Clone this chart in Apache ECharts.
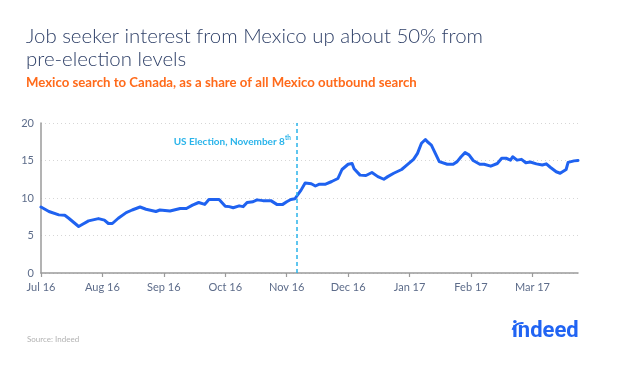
<!DOCTYPE html>
<html>
<head>
<meta charset="utf-8">
<script src="https://cdn.jsdelivr.net/npm/echarts@6/dist/echarts.min.js"></script>
<style>
  html, body { margin: 0; padding: 0; background: #ffffff; }
  #chart { width: 626px; height: 366px; }
</style>
</head>
<body>
<div id="chart"></div>
<script>
// ---- Data ----
var titleLines = ['Job seeker interest from Mexico up about 50% from', 'pre-election levels'];
var subtitleText = 'Mexico search to Canada, as a share of all Mexico outbound search';
var sourceText = 'Source: Indeed';
var monthLabels = ['Jul 16', 'Aug 16', 'Sep 16', 'Oct 16', 'Nov 16', 'Dec 16', 'Jan 17', 'Feb 17', 'Mar 17'];
var yTicks = [0, 5, 10, 15, 20];
var electionLabel = 'US Election, November 8';
var electionMarkerDate = '2016-11-06';

var dates = [
  '2016-07-01','2016-07-05','2016-07-10','2016-07-13','2016-07-15','2016-07-20','2016-07-22','2016-07-25','2016-07-30',
  '2016-08-02','2016-08-04','2016-08-06','2016-08-09','2016-08-13','2016-08-16','2016-08-20','2016-08-23','2016-08-28','2016-08-30',
  '2016-09-04','2016-09-09','2016-09-12','2016-09-15','2016-09-18','2016-09-21','2016-09-23','2016-09-28',
  '2016-10-01','2016-10-03','2016-10-05','2016-10-08','2016-10-10','2016-10-12','2016-10-15','2016-10-17','2016-10-20','2016-10-21','2016-10-24','2016-10-27','2016-10-30',
  '2016-11-01','2016-11-03','2016-11-05','2016-11-08','2016-11-10','2016-11-13','2016-11-15','2016-11-17','2016-11-20','2016-11-23','2016-11-26','2016-11-28',
  '2016-12-01','2016-12-03','2016-12-04','2016-12-07','2016-12-10','2016-12-13','2016-12-16','2016-12-19','2016-12-21','2016-12-24','2016-12-28','2016-12-30',
  '2017-01-03','2017-01-05','2017-01-07','2017-01-09','2017-01-10','2017-01-12','2017-01-14','2017-01-16','2017-01-20','2017-01-23','2017-01-25','2017-01-27','2017-01-29','2017-01-31',
  '2017-02-02','2017-02-05','2017-02-07','2017-02-10','2017-02-13','2017-02-15','2017-02-17','2017-02-19','2017-02-20','2017-02-22','2017-02-24','2017-02-26','2017-02-28',
  '2017-03-03','2017-03-06','2017-03-08','2017-03-10','2017-03-13','2017-03-15','2017-03-18','2017-03-19','2017-03-22','2017-03-24'
];
var values = [
  8.8, 8.2, 7.75, 7.7, 7.3, 6.2, 6.5, 6.95, 7.25,
  7.05, 6.6, 6.6, 7.3, 8.05, 8.4, 8.8, 8.5, 8.2, 8.4,
  8.27, 8.6, 8.6, 9.05, 9.4, 9.15, 9.8, 9.8,
  8.9, 8.85, 8.7, 8.95, 8.85, 9.4, 9.5, 9.75, 9.65, 9.9, 9.65, 9.15, 9.15,
  9.5, 9.8, 9.9, 11.05, 12.0, 11.9, 11.6, 11.85, 11.85, 12.2, 12.6, 13.8,
  14.5, 14.6, 13.9, 13.05, 13.0, 13.4, 12.85, 12.5, 12.85, 13.3, 13.8, 14.25,
  15.15, 15.95, 17.3, 17.8, 17.5, 17.05, 15.95, 14.85, 14.5, 14.5, 14.85, 15.5, 16.05, 15.75,
  15.0, 14.5, 14.5, 14.25, 14.6, 15.3, 15.3, 15.05, 15.5, 15.05, 15.15, 14.7, 14.8,
  14.55, 14.4, 14.55, 14.1, 13.5, 13.3, 13.8, 14.75, 14.95, 15.0
];

// month-equal position: month index since Jul 2016 + fraction of month
function toMonthPos(s) {
  var p = s.split('-');
  var y = +p[0], m = +p[1], d = +p[2];
  var idx = (y - 2016) * 12 + (m - 7);
  var dim = new Date(y, m, 0).getDate();
  return idx + (d - 1) / dim;
}

var seriesData = dates.map(function (d, i) { return [toMonthPos(d), values[i]]; });
var xMax = toMonthPos(dates[dates.length - 1]);
var monthTicks = monthLabels.map(function (_, i) { return i; });

var chart = echarts.init(document.getElementById('chart'));
var axisTextColor = '#5d6c8a';
var fontFam = 'Lato, "Open Sans", sans-serif';

chart.setOption({
  backgroundColor: '#ffffff',
  animation: false,
  grid: { left: 41, right: 48, top: 123, bottom: 93, containLabel: false },
  xAxis: {
    type: 'value',
    min: 0,
    max: xMax,
    interval: 1,
    axisLine: { show: true, lineStyle: { color: '#9a9a9a', width: 1.5 } },
    axisTick: { show: true, length: 4, customValues: monthTicks, lineStyle: { color: '#9a9a9a', width: 1.2 } },
    axisLabel: {
      customValues: monthTicks,
      color: axisTextColor, fontSize: 11, fontFamily: fontFam, margin: 9,
      formatter: function (v) { return monthLabels[Math.round(v)] || ''; }
    },
    splitLine: { show: false }
  },
  yAxis: {
    type: 'value',
    min: yTicks[0],
    max: yTicks[yTicks.length - 1],
    interval: 5,
    axisLine: { show: true, lineStyle: { color: '#9a9a9a', width: 1.5 } },
    axisTick: { show: false },
    axisLabel: { color: axisTextColor, fontSize: 11, fontFamily: fontFam, margin: 7 },
    splitLine: { show: true, lineStyle: { color: '#d6d6d6', type: [1, 3], width: 1 } }
  },
  series: [{
    type: 'line',
    data: seriesData,
    showSymbol: false,
    symbol: 'none',
    lineStyle: { color: '#1f62f0', width: 3, join: 'round', cap: 'round' },
    z: 3,
    markLine: {
      silent: true,
      symbol: ['none', 'none'],
      label: { show: false },
      lineStyle: { color: '#2ab4ea', type: [4, 3], width: 1.5 },
      data: [{ xAxis: toMonthPos(electionMarkerDate) }]
    }
  }],
  graphic: [
    { type: 'text', left: 26, top: 26, style: { text: titleLines[0], fill: '#2f4068', fontSize: 20.4, fontWeight: 300, fontFamily: fontFam } },
    { type: 'text', left: 26, top: 49, style: { text: titleLines[1], fill: '#2f4068', fontSize: 20.4, fontWeight: 300, fontFamily: fontFam } },
    { type: 'text', left: 26, top: 76, style: { text: subtitleText, fill: '#ff6a1a', fontSize: 13.2, fontWeight: 'bold', fontFamily: fontFam } },
    { type: 'text', right: 335, top: 134, style: {
        text: '{a|' + electionLabel + '}{s|th}',
        rich: {
          a: { fill: '#2ab4ea', fontSize: 10, fontWeight: 'bold', fontFamily: fontFam, verticalAlign: 'bottom' },
          s: { fill: '#2ab4ea', fontSize: 6.5, fontWeight: 'bold', fontFamily: fontFam, verticalAlign: 'top', padding: [0, 0, 6, 0] }
        }
      } },
    { type: 'text', left: 27, top: 335, style: { text: sourceText, fill: '#b3b3b3', fontSize: 8, fontFamily: fontFam } },
    { type: 'text', left: 512, top: 320, style: { text: 'indeed', fill: '#2164f3', fontSize: 22, fontWeight: 'bold', fontFamily: 'Roboto, "Open Sans", sans-serif' } },
    { type: 'arc', shape: { cx: 522, cy: 333, r: 10, startAngle: Math.PI * 1.1, endAngle: Math.PI * 1.55 }, style: { stroke: '#2164f3', lineWidth: 2, fill: null } }
  ]
});
</script>
</body>
</html>
